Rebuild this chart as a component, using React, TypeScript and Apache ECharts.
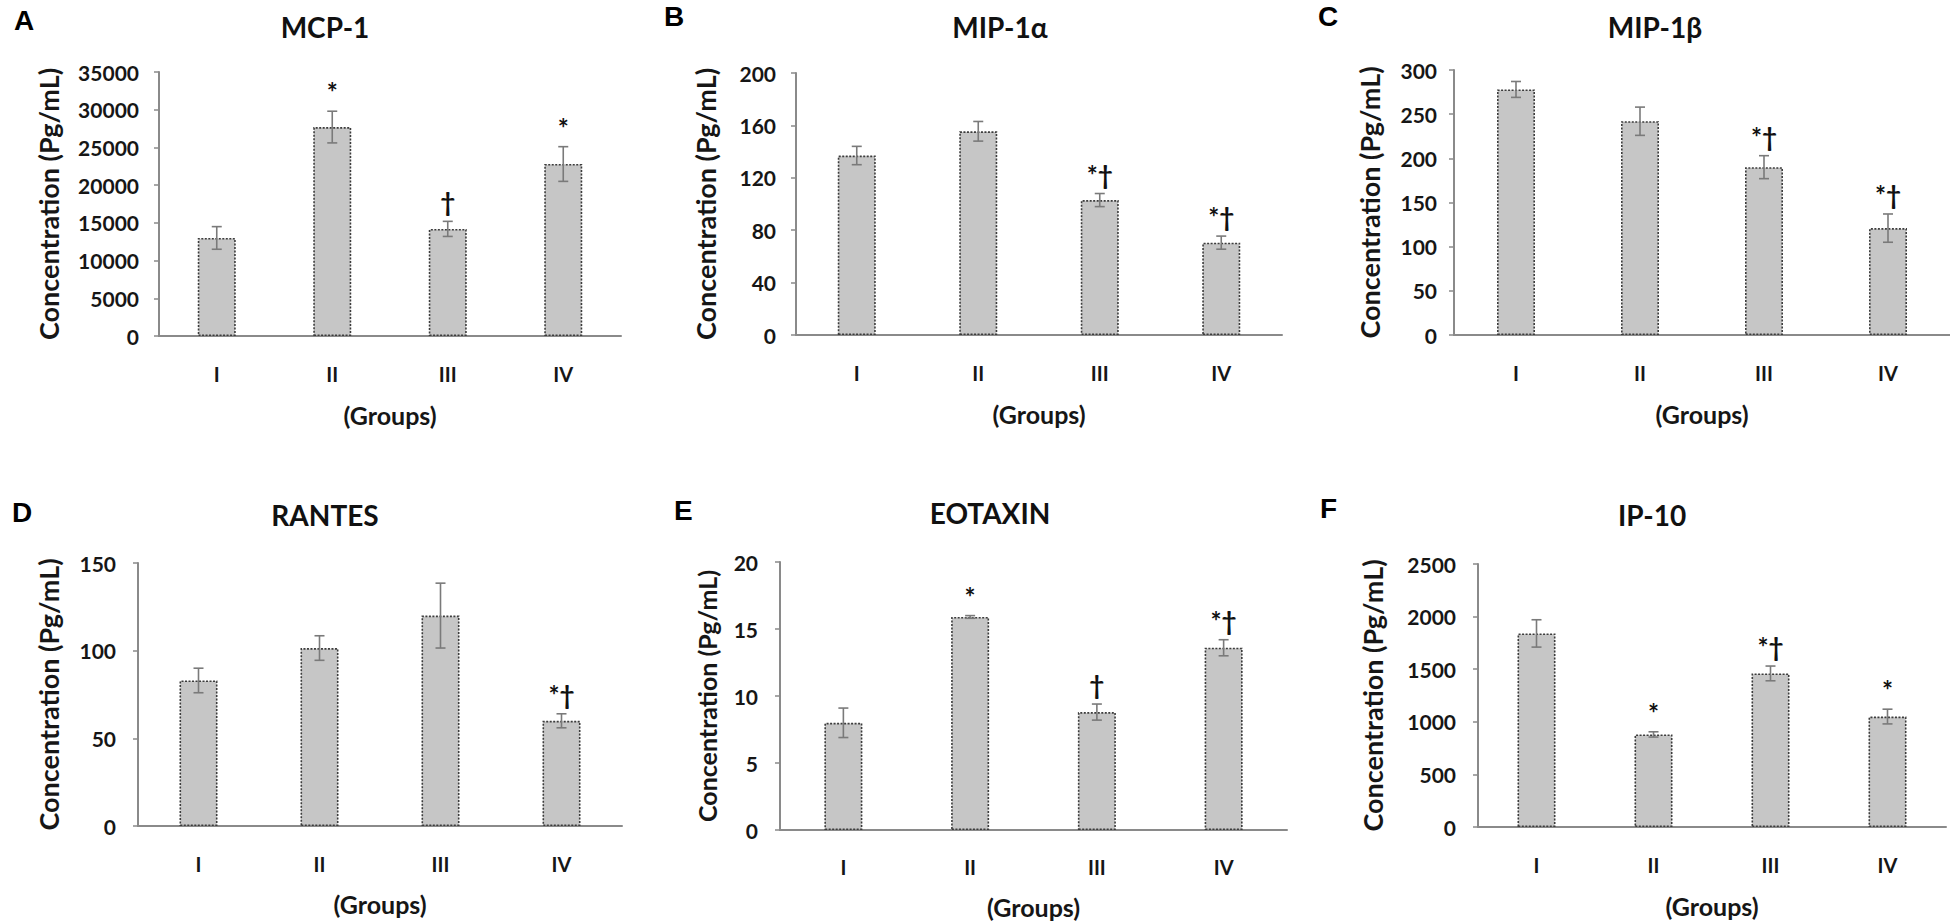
import React, { useEffect, useRef } from "react";
import * as echarts from "echarts";

// ---------- data ----------
const groups = ["I", "II", "III", "IV"];

const mcp1Values = [13000, 27700, 14200, 22800];
const mcp1Errors = [1500, 2100, 1000, 2300];
const mcp1Marks = ["", "*", "†", "*"];

const mip1aValues = [137, 155.5, 103, 70.5];
const mip1aErrors = [7, 7.5, 5, 5];
const mip1aMarks = ["", "", "*†", "*†"];

const mip1bValues = [278, 242, 190, 121];
const mip1bErrors = [9, 16, 13, 16];
const mip1bMarks = ["", "", "*†", "*†"];

const rantesValues = [83, 101.5, 120, 60];
const rantesErrors = [7, 7, 18.5, 4];
const rantesMarks = ["", "", "", "*†"];

const eotaxinValues = [8.0, 15.9, 8.8, 13.6];
const eotaxinErrors = [1.1, 0.1, 0.6, 0.6];
const eotaxinMarks = ["", "*", "†", "*†"];

const ip10Values = [1840, 880, 1460, 1050];
const ip10Errors = [130, 25, 70, 70];
const ip10Marks = ["", "*", "*†", "*"];

const titles = ["MCP-1", "MIP-1α", "MIP-1β", "RANTES", "EOTAXIN", "IP-10"];
const letters = ["A", "B", "C", "D", "E", "F"];
const yMax = [35000, 200, 300, 150, 20, 2500];
const yInterval = [5000, 40, 50, 50, 5, 500];
const yAxisTitle = "Concentration (Pg/mL)";
const xAxisTitle = "(Groups)";

const seriesValues = [mcp1Values, mip1aValues, mip1bValues, rantesValues, eotaxinValues, ip10Values];
const seriesErrors = [mcp1Errors, mip1aErrors, mip1bErrors, rantesErrors, eotaxinErrors, ip10Errors];
const seriesMarks = [mcp1Marks, mip1aMarks, mip1bMarks, rantesMarks, eotaxinMarks, ip10Marks];

// ---------- layout (pixels) ----------
const layout = [
  { left: 159, right: 621, top: 72, bottom: 336, nameGap: 97, labelMargin: 20, xLabelMargin: 28, xNameGap: 66, letterX: 14, letterY: 20, titleX: 325, titleY: 27, nameSize: 27 },
  { left: 796, right: 1282, top: 73, bottom: 335, nameGap: 77, labelMargin: 20, xLabelMargin: 28, xNameGap: 66, letterX: 664, letterY: 16, titleX: 1000, titleY: 27, nameSize: 27 },
  { left: 1454, right: 1950, top: 70, bottom: 335, nameGap: 71, labelMargin: 17, xLabelMargin: 28, xNameGap: 66, letterX: 1318, letterY: 16, titleX: 1655, titleY: 27, nameSize: 27 },
  { left: 138, right: 622, top: 563, bottom: 826, nameGap: 76, labelMargin: 22, xLabelMargin: 28, xNameGap: 65, letterX: 12, letterY: 512, titleX: 325, titleY: 515, nameSize: 27 },
  { left: 780, right: 1287, top: 562, bottom: 830, nameGap: 61, labelMargin: 22, xLabelMargin: 27, xNameGap: 64, letterX: 674, letterY: 510, titleX: 990, titleY: 513, nameSize: 25 },
  { left: 1478, right: 1946, top: 564, bottom: 827, nameGap: 92, labelMargin: 22, xLabelMargin: 28, xNameGap: 66, letterX: 1320, letterY: 508, titleX: 1652, titleY: 515, nameSize: 27 },
];

const FONT = "Lato, 'Open Sans', 'DejaVu Sans', sans-serif";
const TEXT = "#161616";
const AXIS = "#8a8a8a";

function buildOption() {
  const grid: any[] = [];
  const xAxis: any[] = [];
  const yAxis: any[] = [];
  const series: any[] = [];
  const graphic: any[] = [];

  layout.forEach((l, i) => {
    grid.push({ left: l.left, top: l.top, width: l.right - l.left, height: l.bottom - l.top, containLabel: false });
    xAxis.push({
      type: "category",
      gridIndex: i,
      data: groups,
      axisLine: { lineStyle: { color: AXIS, width: 2 } },
      axisTick: { show: false },
      axisLabel: { margin: l.xLabelMargin, fontFamily: FONT, fontWeight: "bold", fontSize: 20, color: TEXT },
      name: xAxisTitle,
      nameLocation: "middle",
      nameGap: l.xNameGap,
      nameTextStyle: { fontFamily: FONT, fontWeight: "bold", fontSize: 25, color: TEXT },
    });
    yAxis.push({
      type: "value",
      gridIndex: i,
      min: 0,
      max: yMax[i],
      interval: yInterval[i],
      splitLine: { show: false },
      axisLine: { show: true, lineStyle: { color: AXIS, width: 2 } },
      axisTick: { show: true, length: 5, lineStyle: { color: AXIS, width: 1.5 } },
      axisLabel: {
        margin: l.labelMargin,
        fontFamily: FONT,
        fontWeight: "bold",
        fontSize: 21,
        color: TEXT,
        formatter: (v: number) => String(v),
      },
      name: yAxisTitle,
      nameLocation: "middle",
      nameGap: l.nameGap,
      nameTextStyle: { fontFamily: FONT, fontWeight: "bold", fontSize: l.nameSize, color: TEXT },
    });
    series.push({
      type: "bar",
      xAxisIndex: i,
      yAxisIndex: i,
      data: seriesValues[i],
      barWidth: 38,
      itemStyle: { color: "#c6c6c6", borderColor: "#3c3c3c", borderWidth: 1.6, borderType: [2, 1.5] },
      silent: true,
    });
    const errs = seriesErrors[i];
    const marks = seriesMarks[i];
    series.push({
      type: "custom",
      xAxisIndex: i,
      yAxisIndex: i,
      z: 5,
      silent: true,
      data: seriesValues[i].map((v, k) => [k, v, errs[k]]),
      renderItem: (params: any, api: any) => {
        const k = api.value(0);
        const v = api.value(1);
        const e = api.value(2);
        const top = api.coord([k, v + e]);
        const bot = api.coord([k, v - e]);
        const cap = 5;
        const stroke = { stroke: "#7a7a7a", lineWidth: 1.6 };
        const mark = marks[params.dataIndex];
        const children: any[] = [
          { type: "line", shape: { x1: top[0], y1: top[1], x2: bot[0], y2: bot[1] }, style: stroke },
          { type: "line", shape: { x1: top[0] - cap, y1: top[1], x2: top[0] + cap, y2: top[1] }, style: stroke },
          { type: "line", shape: { x1: bot[0] - cap, y1: bot[1], x2: bot[0] + cap, y2: bot[1] }, style: stroke },
        ];
        if (mark) {
          children.push({
            type: "text",
            x: top[0],
            y: top[1] - 6,
            style: {
              text: mark,
              fill: "#111",
              font: `bold 26px ${FONT}`,
              align: "center",
              verticalAlign: "bottom",
            },
          });
        }
        return { type: "group", children };
      },
    });
    graphic.push({
      type: "text",
      left: l.letterX,
      top: l.letterY - 14,
      style: { text: letters[i], fill: "#000", font: "bold 28px 'Liberation Sans', Arial, sans-serif" },
    });
    graphic.push({
      type: "text",
      x: l.titleX,
      y: l.titleY,
      style: { text: titles[i], fill: "#111", font: `bold 28px ${FONT}`, align: "center", verticalAlign: "middle" },
    });
  });

  return { animation: false, backgroundColor: "#ffffff", grid, xAxis, yAxis, series, graphic };
}

export default function App() {
  const ref = useRef<HTMLDivElement>(null);
  useEffect(() => {
    document.body.style.margin = "0";
    const chart = echarts.init(ref.current!, undefined, { renderer: "svg" });
    chart.setOption(buildOption());
    return () => chart.dispose();
  }, []);
  return <div ref={ref} style={{ position: "absolute", left: 0, top: 0, width: 1950, height: 924, background: "#fff" }} />;
}
